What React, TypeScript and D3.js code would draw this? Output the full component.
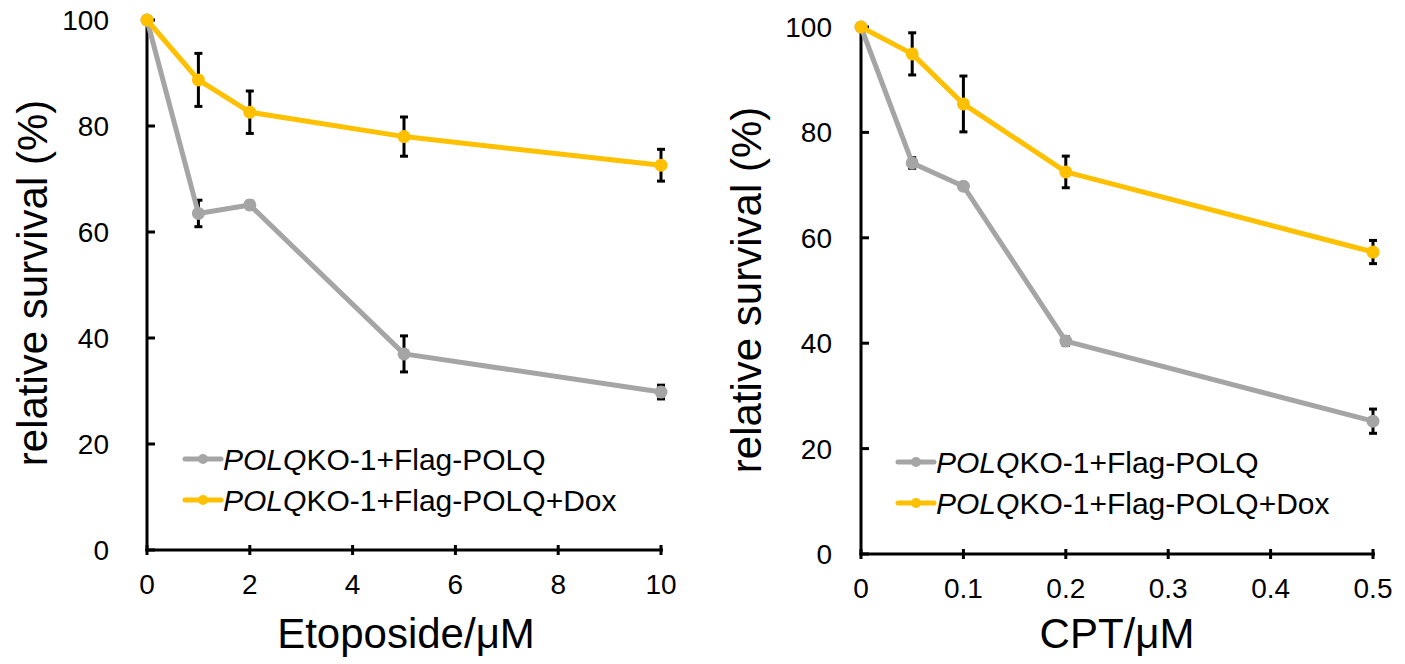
import React from 'react';
import * as d3 from 'd3';

const etoDose = [0, 1, 2, 5, 10];
const etoCtrl = [100, 63.5, 65.1, 37.0, 29.8];
const etoCtrlErr = [0, 2.5, 0.7, 3.4, 1.3];
const etoDox = [100, 88.7, 82.6, 78.0, 72.6];
const etoDoxErr = [0, 5, 4, 3.7, 3];
const etoTicks = [0, 2, 4, 6, 8, 10];

const cptDose = [0, 0.05, 0.1, 0.2, 0.5];
const cptCtrl = [100, 74.2, 69.8, 40.4, 25.2];
const cptCtrlErr = [0, 1, 0.5, 0.8, 2.3];
const cptDox = [100, 94.9, 85.4, 72.5, 57.3];
const cptDoxErr = [0, 4, 5.3, 3, 2.2];
const cptTicks = [0, 0.1, 0.2, 0.3, 0.4, 0.5];

const yTicks = [0, 20, 40, 60, 80, 100];

const GRAY = '#A5A5A5';
const GOLD = '#FFC000';
const FONT = '"Liberation Sans", Arial, sans-serif';

type PanelProps = {
  dose: number[];
  ctrl: number[];
  ctrlErr: number[];
  dox: number[];
  doxErr: number[];
  xTicks: number[];
  xMax: number;
  xRange: [number, number];
  yRange: [number, number];
  xTitle: string;
  titleX: number;
  legendX: number;
  legendY: number;
  yLabelX: number;
  yTitleX: number;
  yTitleY: number;
};

const Panel = (p: PanelProps) => {
  const x = d3.scaleLinear().domain([0, p.xMax]).range(p.xRange);
  const y = d3.scaleLinear().domain([0, 100]).range(p.yRange);
  const line = d3.line<number>().x((_, i) => x(p.dose[i])).y((d) => y(d));
  const x0 = p.xRange[0];
  const y0 = p.yRange[0];

  const errBars = (vals: number[], errs: number[]) =>
    vals.map((v, i) =>
      errs[i] > 0 ? (
        <g key={i} stroke="#000" strokeWidth={3}>
          <line x1={x(p.dose[i])} x2={x(p.dose[i])} y1={y(v + errs[i])} y2={y(v - errs[i])} />
          <line x1={x(p.dose[i]) - 4} x2={x(p.dose[i]) + 4} y1={y(v + errs[i])} y2={y(v + errs[i])} />
          <line x1={x(p.dose[i]) - 4} x2={x(p.dose[i]) + 4} y1={y(v - errs[i])} y2={y(v - errs[i])} />
        </g>
      ) : null
    );

  const series = (vals: number[], color: string) => (
    <g>
      <path d={line(vals) || ''} fill="none" stroke={color} strokeWidth={5} strokeLinejoin="round" />
      {vals.map((v, i) => (
        <circle key={i} cx={x(p.dose[i])} cy={y(v)} r={6.5} fill={color} />
      ))}
    </g>
  );

  const legendRow = (color: string, ly: number, suffix: string) => (
    <g>
      <line x1={p.legendX} x2={p.legendX + 36} y1={ly} y2={ly} stroke={color} strokeWidth={5} strokeLinecap="round" />
      <circle cx={p.legendX + 18} cy={ly} r={5} fill={color} />
      <text x={p.legendX + 38} y={ly + 10.5} fontSize={30} fontFamily={FONT}>
        <tspan fontStyle="italic">POLQ</tspan>
        <tspan>{'KO-1+Flag-POLQ' + suffix}</tspan>
      </text>
    </g>
  );

  return (
    <g>
      {/* axes */}
      <line x1={x0} x2={x0} y1={y0 + 1.5} y2={y(100)} stroke="#000" strokeWidth={3} />
      <line x1={x0 - 1.5} x2={x(p.xMax) + 2} y1={y0} y2={y0} stroke="#000" strokeWidth={3} />
      {yTicks.map((t) => (
        <g key={t}>
          <line x1={x0} x2={x0 + 8} y1={y(t)} y2={y(t)} stroke="#000" strokeWidth={3} />
          <text x={p.yLabelX} y={y(t) + 10} textAnchor="end" fontSize={28} fontFamily={FONT}>
            {t}
          </text>
        </g>
      ))}
      {p.xTicks.map((t) => (
        <g key={t}>
          <line x1={x(t)} x2={x(t)} y1={y0 - 5} y2={y0 + 5} stroke="#000" strokeWidth={3} />
          <text x={x(t)} y={y0 + 44} textAnchor="middle" fontSize={28} fontFamily={FONT}>
            {t}
          </text>
        </g>
      ))}
      <text x={p.titleX} y={648} textAnchor="middle" fontSize={42} fontFamily={FONT}>
        {p.xTitle}
      </text>
      <text
        transform={`translate(${p.yTitleX},${p.yTitleY}) rotate(-90)`}
        textAnchor="middle"
        fontSize={42}
        fontFamily={FONT}
      >
        relative survival (%)
      </text>

      {errBars(p.ctrl, p.ctrlErr)}
      {errBars(p.dox, p.doxErr)}
      {series(p.ctrl, GRAY)}
      {series(p.dox, GOLD)}

      {legendRow(GRAY, p.legendY, '')}
      {legendRow(GOLD, p.legendY + 41, '+Dox')}
    </g>
  );
};

export default function App() {
  return (
    <svg width={1405} height={664} style={{ position: 'absolute', left: 0, top: 0, background: '#fff' }}>
      <Panel
        dose={etoDose}
        ctrl={etoCtrl}
        ctrlErr={etoCtrlErr}
        dox={etoDox}
        doxErr={etoDoxErr}
        xTicks={etoTicks}
        xMax={10}
        xRange={[147, 661]}
        yRange={[550, 20]}
        xTitle="Etoposide/μM"
        titleX={406}
        legendX={185}
        legendY={459}
        yLabelX={109}
        yTitleX={47}
        yTitleY={283}
      />
      <Panel
        dose={cptDose}
        ctrl={cptCtrl}
        ctrlErr={cptCtrlErr}
        dox={cptDox}
        doxErr={cptDoxErr}
        xTicks={cptTicks}
        xMax={0.5}
        xRange={[861, 1373]}
        yRange={[554, 27]}
        xTitle="CPT/μM"
        titleX={1117}
        legendX={898}
        legendY={462}
        yLabelX={832}
        yTitleX={761}
        yTitleY={290}
      />
    </svg>
  );
}
